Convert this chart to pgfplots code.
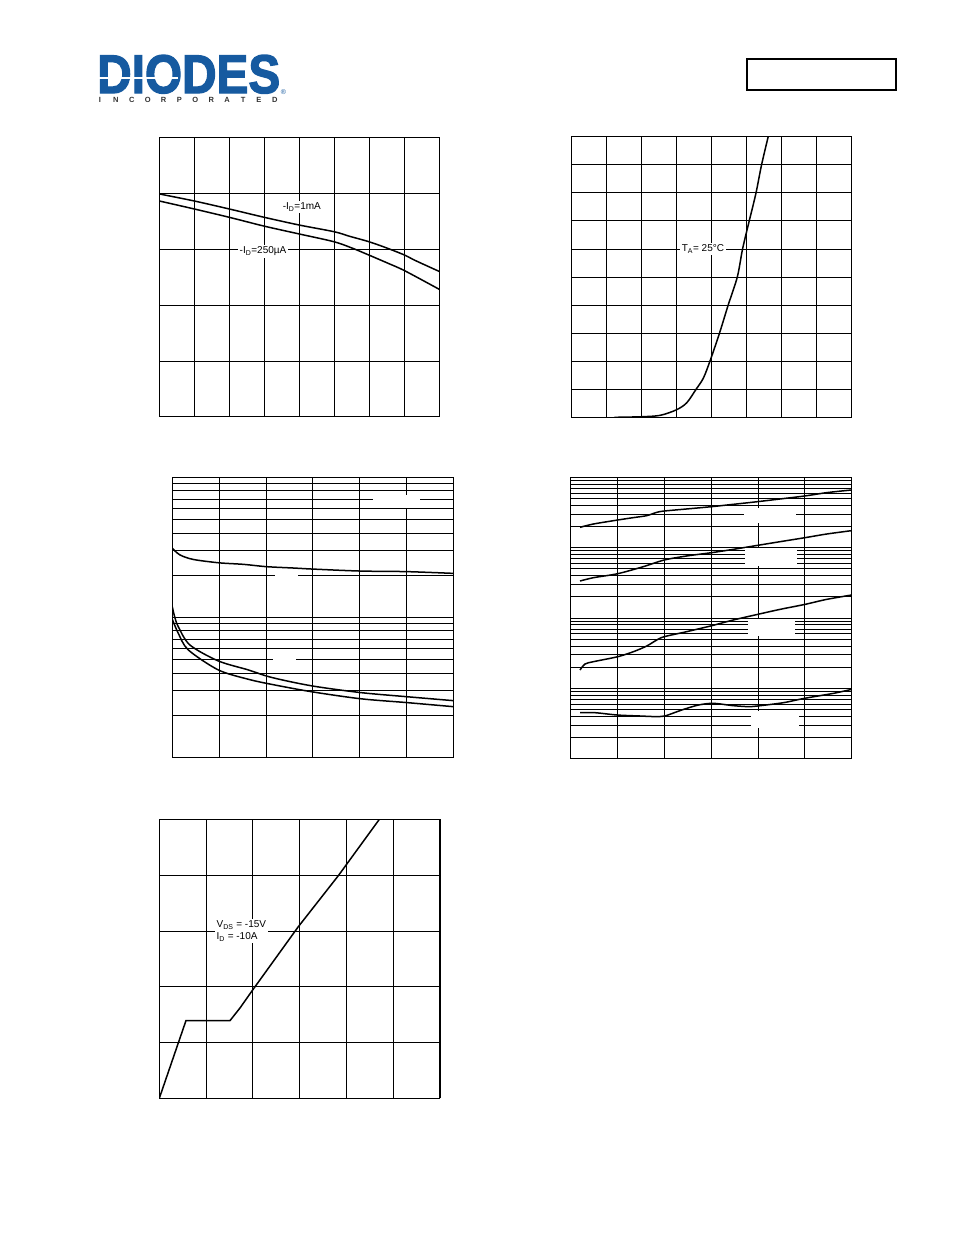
\documentclass[border=0pt]{standalone}
\usepackage{fontspec}
\setmainfont{Liberation Sans}
\newfontfamily\logofont[FakeBold=2.5]{Liberation Sans Bold}
\usepackage{pgfplots}
\pgfplotsset{compat=1.18}
\definecolor{diodesblue}{RGB}{22,90,160}
\pgfplotsset{
  ds/.style={scale only axis, anchor=north west, xticklabels={}, yticklabels={},
    major tick length=0pt, minor tick length=0pt,
    grid=major, grid style={black, line width=0.8pt},
    minor grid style={black, line width=0.8pt},
    axis line style={black, line width=1pt},
    every axis plot/.append style={black, line width=1.5pt, no marks}}
}
\tikzset{
  lab/.style={fill=white, inner sep=1.5pt, font=\fontsize{10}{11}\selectfont},
  gap/.style={fill=white, inner sep=0pt, draw=none}
}
\newcommand{\lb}[1]{\makebox[15.9pt]{#1}}
\begin{document}
\begin{tikzpicture}
\path[use as bounding box, fill=white] (0pt,0pt) rectangle (954pt,-1235pt);
% logo
\node[anchor=base west, inner sep=0pt, text depth=0pt, text=diodesblue] at (97pt,-93pt) {\resizebox{183pt}{38pt}{\logofont DIODES}};
\fill[white] (97pt,-77.3pt) rectangle (178pt,-79.3pt);
\node[text=black!80, font=\fontsize{7.5}{8}\selectfont\bfseries, inner sep=0pt] at (187.45pt,-99.5pt)
  {\lb{I}\lb{N}\lb{C}\lb{O}\lb{R}\lb{P}\lb{O}\lb{R}\lb{A}\lb{T}\lb{E}\lb{D}};
\node[text=diodesblue, font=\fontsize{7}{7}\selectfont, inner sep=0pt] at (283.5pt,-92.5pt) {®};
\draw[line width=1.3pt] (747pt,-59pt) rectangle (896pt,-90pt);

% chart 1
\begin{axis}[ds, at={(159.5pt,-137.3pt)}, width=279.8pt, height=279.5pt,
  xmin=0, xmax=8, ymin=0, ymax=5, xtick={0,...,8}, ytick={0,...,5}]
\addplot[smooth] coordinates {(0,3.986)(1,3.86)(2,3.717)(3,3.568)(4,3.43)(5,3.31)(5.43,3.23)(6,3.13)(6.54,3.01)(7.02,2.89)(7.3,2.80)(8,2.60)};
\addplot[smooth] coordinates {(0,3.86)(1,3.717)(2,3.568)(3,3.41)(4,3.27)(5,3.13)(5.54,3.01)(6,2.89)(6.54,2.745)(7.02,2.61)(8,2.28)};
\node[lab] at (axis cs:4.07,3.75) {-I\textsubscript{D}=1mA};
\node[lab] at (axis cs:2.96,2.957) {-I\textsubscript{D}=250µA};
\end{axis}

% chart 2
\begin{axis}[ds, at={(571pt,-136.7pt)}, width=280.7pt, height=280.6pt,
  xmin=0, xmax=8, ymin=0, ymax=10, xtick={0,...,8}, ytick={0,...,10}]
\addplot[smooth] coordinates {(1.235,0)(2.01,0.02)(2.54,0.07)(3.01,0.27)(3.30,0.52)(3.56,0.99)(3.77,1.39)(3.96,2.0)(4.23,2.99)(4.48,4.0)(4.74,5.0)(4.89,6.0)(5.08,7.0)(5.27,7.98)(5.43,8.99)(5.62,10)};
\node[lab] at (axis cs:3.76,6.0) {T\textsubscript{A}= 25°C};
\end{axis}

% chart 3
\begin{axis}[ds, at={(172.3pt,-477.3pt)}, width=281pt, height=280pt,
  xmin=0, xmax=6, ymode=log, ymin=1, ymax=100, xtick={0,...,6},
  ytick={1,10,100}, minor ytick={2,...,9,20,30,...,90}, grid=both]
\addplot[smooth] coordinates {(0,31.1)(0.164,27.9)(0.448,25.9)(1.0,24.5)(1.516,23.9)(2.01,23.0)(2.58,22.5)(3.01,22.1)(4.02,21.4)(5.0,21.2)(6.0,20.6)};
\addplot[smooth] coordinates {(0,11.91)(0.05,10.1)(0.128,8.57)(0.377,6.34)(0.982,4.88)(1.623,4.21)(2.121,3.72)(2.975,3.24)(4.021,2.90)(5.004,2.71)(6.0,2.54)};
\addplot[smooth] coordinates {(0,9.68)(0.128,7.69)(0.342,5.85)(0.982,4.21)(1.623,3.61)(2.121,3.32)(2.975,2.94)(4.021,2.62)(5.004,2.46)(6.0,2.30)};
\node[gap, minimum width=47pt, minimum height=13pt] at (axis cs:4.79,67.7) {};
\node[gap, minimum width=23pt, minimum height=8pt] at (axis cs:2.44,19.6) {};
\node[gap, minimum width=23pt, minimum height=8pt] at (axis cs:2.40,4.93) {};
\end{axis}

% chart 4
\begin{axis}[ds, at={(570.7pt,-477.3pt)}, width=281pt, height=281.4pt,
  xmin=0, xmax=6, ymode=log, ymin=1, ymax=10000, xtick={0,...,6},
  ytick={1,10,100,1000,10000},
  minor ytick={2,...,9,20,30,...,90,200,300,...,900,2000,3000,...,9000}, grid=both]
\addplot[smooth] coordinates {(0.199,1945)(0.484,2168)(1.004,2472)(1.338,2673)(1.623,2851)(1.836,3177)(2.0,3319)(2.477,3548)(3.011,3828)(3.473,4130)(3.993,4508)(4.470,4920)(5.004,5433)(5.466,6053)(6.0,6607)};
\addplot[smooth] coordinates {(0.199,335.7)(0.484,374.1)(1.004,426.6)(1.551,537.0)(2.0,668.3)(2.477,762.1)(3.011,849.2)(3.473,946.2)(3.993,1079)(4.470,1216)(5.004,1387)(5.466,1563)(6.0,1746)};
\addplot[smooth] coordinates {(0.199,18.24)(0.306,22.18)(0.484,23.93)(1.004,28.18)(1.338,33.19)(1.623,39.99)(1.836,48.64)(2.0,54.33)(2.477,63.97)(3.011,77.80)(3.473,93.76)(3.993,112.7)(4.470,132.7)(5.004,156.3)(5.466,184.1)(6.0,212.3)};
\addplot[smooth] coordinates {(0.199,4.508)(0.520,4.508)(0.996,4.178)(1.480,4.046)(1.872,3.954)(2.014,4.046)(2.370,4.920)(2.726,5.794)(3.046,6.124)(3.473,5.675)(3.829,5.483)(3.986,5.610)(4.541,6.252)(4.989,7.211)(5.609,8.492)(6.0,9.683)};
\node[gap, minimum width=52pt, minimum height=15pt] at (axis cs:4.256,2864) {};
\node[gap, minimum width=52pt, minimum height=18pt] at (axis cs:4.277,735) {};
\node[gap, minimum width=47pt, minimum height=17pt] at (axis cs:4.288,73.3) {};
\node[gap, minimum width=48pt, minimum height=17pt] at (axis cs:4.363,3.61) {};
\end{axis}

% chart 5
\begin{axis}[ds, at={(159.3pt,-819.3pt)}, width=280.7pt, height=279pt,
  xmin=0, xmax=6, ymin=0, ymax=5, xtick={0,...,6}, ytick={0,...,5}]
\addplot[sharp plot] coordinates {(0,0)(0.570,1.392)(1.511,1.392)(1.725,1.619)(1.981,1.924)(2.972,3.076)(3.827,3.990)(4.704,5.0)};
\node[lab, anchor=west, align=left, font=\fontsize{10}{12}\selectfont] at (axis cs:1.19,3.0) {V\textsubscript{DS} = -15V\\I\textsubscript{D} = -10A};
\end{axis}
\end{tikzpicture}
\end{document}
